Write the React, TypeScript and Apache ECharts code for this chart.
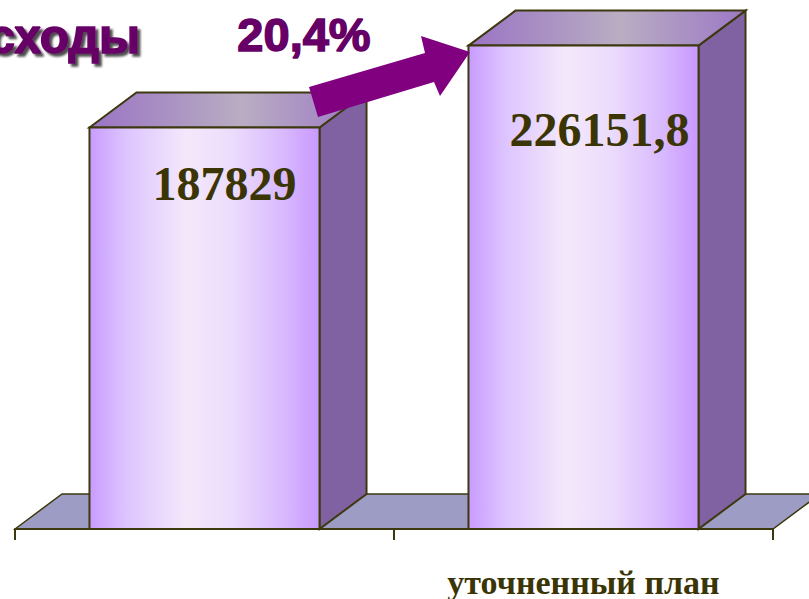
import React, { useEffect, useRef } from "react";
import * as echarts from "echarts";

const CATEGORIES = ["", "уточненный план"];
const VALUES = [187829, 226151.8];
const VALUE_LABELS = ["187829", "226151,8"];
const TITLE_TEXT = "Расходы";
const GROWTH_TEXT = "20,4%";

// style constants
const DX = 47;
const DY = 35;
const BAR_RATIO = 0.607;
const LABEL_DX = [20, 16];
const LABEL_DY = [56, 84];
const EDGE = "#3d390e";

export default function App() {
  const ref = useRef<HTMLDivElement>(null);
  useEffect(() => {
    if (!ref.current) return;
    const chart = echarts.init(ref.current, null, { renderer: "svg" });
    const frontGrad = new echarts.graphic.LinearGradient(0, 0, 1, 0, [
      { offset: 0, color: "#c89bff" },
      { offset: 0.15, color: "#dcc3ff" },
      { offset: 0.42, color: "#f4e8fb" },
      { offset: 0.62, color: "#ecdcfc" },
      { offset: 0.85, color: "#d8b8fe" },
      { offset: 1, color: "#c898ff" },
    ]);
    const topGrad = new echarts.graphic.LinearGradient(0, 0, 1, 0, [
      { offset: 0, color: "#9a74c4" },
      { offset: 0.55, color: "#b9adc2" },
      { offset: 1, color: "#9c78c6" },
    ]);
    chart.setOption({
      animation: false,
      backgroundColor: "#ffffff",
      grid: { left: 15, right: 36, top: 16, bottom: 67 },
      xAxis: {
        type: "category",
        data: CATEGORIES,
        axisLine: { show: true, lineStyle: { color: EDGE, width: 2 } },
        axisTick: { show: true, length: 11, lineStyle: { color: EDGE, width: 2 } },
        axisLabel: {
          margin: 36,
          fontFamily: "Liberation Serif",
          fontWeight: "bold",
          fontSize: 34,
          color: "#3b3505",
        },
        z: 5,
      },
      yAxis: {
        type: "value",
        min: 0,
        max: 240000,
        show: false,
        splitLine: { show: false },
      },
      series: [
        {
          type: "custom",
          clip: false,
          z: 1,
          data: [[0]],
          renderItem: (params: any, api: any) => {
            const cs = params.coordSys;
            const yB = cs.y + cs.height;
            const x0 = cs.x;
            const x1 = cs.x + cs.width;
            return {
              type: "polygon",
              shape: {
                points: [
                  [x0, yB],
                  [x0 + DX, yB - DY],
                  [x1 + DX, yB - DY],
                  [x1, yB],
                ],
              },
              style: { fill: "#9c9cc4", stroke: EDGE, lineWidth: 1.5 },
            };
          },
        },
        {
          type: "custom",
          clip: false,
          z: 2,
          data: VALUES.map((v, i) => [i, v]),
          renderItem: (params: any, api: any) => {
            const idx = api.value(0);
            const v = api.value(1);
            const top = api.coord([idx, v]);
            const base = api.coord([idx, 0]);
            const band = api.size([1, 0])[0];
            const w = band * BAR_RATIO;
            const x0 = top[0] - w / 2;
            const x1 = top[0] + w / 2;
            const yT = top[1];
            const yB = base[1];
            return {
              type: "group",
              children: [
                {
                  type: "polygon",
                  shape: {
                    points: [
                      [x1, yT],
                      [x1 + DX, yT - DY],
                      [x1 + DX, yB - DY],
                      [x1, yB],
                    ],
                  },
                  style: { fill: "#8062a2", stroke: EDGE, lineWidth: 2 },
                },
                {
                  type: "polygon",
                  shape: {
                    points: [
                      [x0, yT],
                      [x0 + DX, yT - DY],
                      [x1 + DX, yT - DY],
                      [x1, yT],
                    ],
                  },
                  style: { fill: topGrad, stroke: EDGE, lineWidth: 2 },
                },
                {
                  type: "rect",
                  shape: { x: x0, y: yT, width: w, height: yB - yT },
                  style: { fill: frontGrad, stroke: EDGE, lineWidth: 2 },
                },
                {
                  type: "text",
                  style: {
                    text: VALUE_LABELS[params.dataIndex],
                    x: top[0] + LABEL_DX[params.dataIndex],
                    y: yT + LABEL_DY[params.dataIndex],
                    align: "center",
                    verticalAlign: "middle",
                    font: "bold 48px 'Liberation Serif'",
                    fill: "#3b3505",
                  },
                },
              ],
            };
          },
        },
      ],
      graphic: [
        {
          type: "polygon",
          z: 100,
          shape: {
            points: [
              [309, 87],
              [425, 53],
              [421, 36],
              [470, 52],
              [440, 96],
              [434, 82],
              [318, 117],
            ],
          },
          style: { fill: "#800080" },
        },
        {
          type: "text",
          z: 100,
          x: 140,
          y: 36,
          style: {
            text: TITLE_TEXT,
            align: "right",
            verticalAlign: "middle",
            font: "bold 48px 'Liberation Sans'",
            fill: "#660066",
            stroke: "#660066",
            lineWidth: 1.5,
            textShadowColor: "rgba(0,0,0,0.7)",
            textShadowOffsetX: 3,
            textShadowOffsetY: 3,
            textShadowBlur: 2,
          },
        },
        {
          type: "text",
          z: 100,
          x: 304,
          y: 34,
          style: {
            text: GROWTH_TEXT,
            align: "center",
            verticalAlign: "middle",
            font: "bold 47px 'Liberation Sans'",
            fill: "#660066",
            stroke: "#660066",
            lineWidth: 1.5,
          },
        },
      ],
    });
    return () => chart.dispose();
  }, []);
  return (
    <div
      ref={ref}
      style={{ position: "absolute", left: 0, top: 0, width: 809, height: 599 }}
    />
  );
}
